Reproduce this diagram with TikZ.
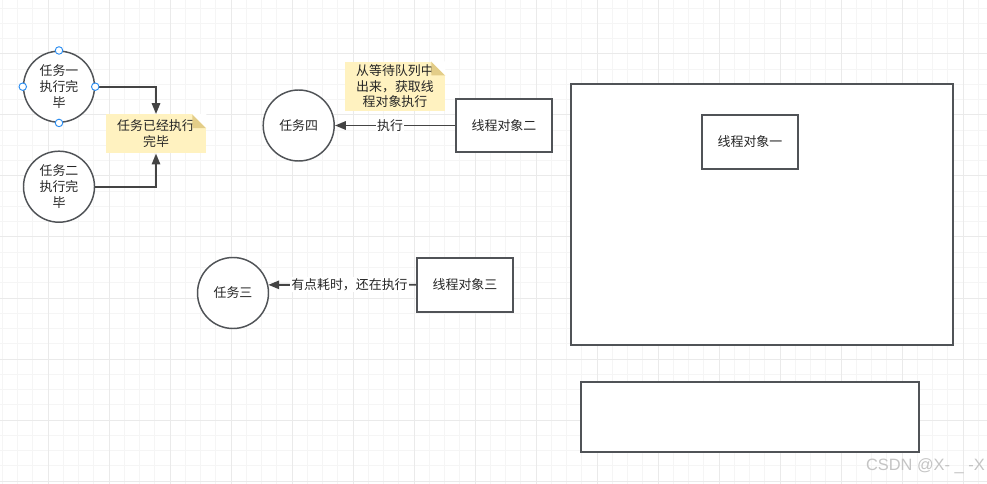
\documentclass[tikz,border=0pt]{standalone}
\usepackage{fontspec}
\setmainfont{Noto Sans CJK SC}
\newfontfamily\wmfont{Liberation Sans}
\usetikzlibrary{arrows.meta,calc}
\definecolor{gridminor}{HTML}{F5F5F5}
\definecolor{gridmajor}{HTML}{EAEAEA}
\definecolor{strokec}{HTML}{505357}
\definecolor{linec}{HTML}{444444}
\definecolor{notefill}{HTML}{FFF2C0}
\definecolor{notefold}{HTML}{E3CD88}
\definecolor{handle}{HTML}{2A8CF0}
\definecolor{wmc}{HTML}{C4C4C4}
\tikzset{
  cjk/.style={font=\fontsize{9.7pt}{11.8pt}\selectfont, align=center, text=black!85},
  taskcirc/.style={circle, draw=strokec, line width=1.1pt, fill=white, minimum size={71*0.75pt}, inner sep=0pt, cjk},
  thrbox/.style={rectangle, draw=strokec, line width=1.3pt, fill=white, inner sep=0pt, cjk},
  notebox/.style={rectangle, fill=notefill, inner sep=0pt, cjk},
  conn/.style={draw=linec, line width=1.4pt, -{Triangle[length=8.2pt,width=6.3pt]}},
  edgelbl/.style={fill=white, inner sep=1pt, cjk},
  hdl/.style={circle, draw=handle, fill=white, line width=0.7pt, minimum size={7.5*0.75pt}, inner sep=0pt}
}
\begin{document}
\begin{tikzpicture}[x=0.75pt, y=-0.75pt]
\useasboundingbox (0,0) rectangle (987,484);
\fill[white] (0,0) rectangle (987,484);
% grid
\foreach \i in {0,...,64} {
  \draw[gridminor, line width=0.75pt] ({2.25+15.25*\i},0) -- ({2.25+15.25*\i},484);
}
\foreach \j in {0,...,31} {
  \draw[gridminor, line width=0.75pt] (0,{8.25+15.25*\j}) -- (987,{8.25+15.25*\j});
}
\foreach \i in {0,...,16} {
  \draw[gridmajor, line width=0.75pt] ({-13+61*\i},0) -- ({-13+61*\i},484);
}
\foreach \j in {0,...,8} {
  \draw[gridmajor, line width=0.75pt] (0,{-7+61*\j}) -- (987,{-7+61*\j});
}

% big rectangles
\node[thrbox, minimum width={381.7*0.75pt}, minimum height={261.3*0.75pt}] (big) at (761.85,214.65) {};
\node[thrbox, minimum width={338*0.75pt}, minimum height={69.7*0.75pt}] (bottom) at (750,416.85) {};
\node[thrbox, minimum width={96*0.75pt}, minimum height={54*0.75pt}] (r1) at (750,141.7) {线程对象一};

% tasks one / two
\node[taskcirc] (t1) at (59,86.7) {任务一\\执行完\\毕};
\node[taskcirc] (t2) at (59,186.7) {任务二\\执行完\\毕};
\node[notebox, minimum width={100*0.75pt}, minimum height={39*0.75pt}] (n1) at (156,133.8) {任务已经执行\\完毕};
\fill[notefold] (n1.north east) ++(-14,0) -- ++(14,14) -- ++(-14,0) -- cycle;
\fill[white] (n1.north east) ++(-14,0) -- ++(14,0) -- ++(0,14) -- cycle;
\draw[conn] (t1.east) -| (n1.north);
\draw[conn] (t2.east) -| (n1.south);
\foreach \a in {north,south,east,west} { \node[hdl] at (t1.\a) {}; }

% task four
\node[taskcirc] (t4) at (298.7,125.5) {任务四};
\node[thrbox, minimum width={96.6*0.75pt}, minimum height={53*0.75pt}] (r2) at (504,125.5) {线程对象二};
\node[notebox, minimum width={100*0.75pt}, minimum height={49*0.75pt}] (n2) at (395,86.2) {从等待队列中\\出来，获取线\\程对象执行};
\fill[notefold] (n2.north east) ++(-14,0) -- ++(14,14) -- ++(-14,0) -- cycle;
\fill[white] (n2.north east) ++(-14,0) -- ++(14,0) -- ++(0,14) -- cycle;
\draw[conn] (r2.west) -- node[edgelbl, pos=0.54] {执行} (t4.east);

% task three
\node[taskcirc] (t3) at (233,293) {任务三};
\node[thrbox, minimum width={96.6*0.75pt}, minimum height={54*0.75pt}] (r3) at (465,284.7) {线程对象三};
\draw[conn] (r3.west) -- node[edgelbl, pos=0.45] {有点耗时，还在执行} (t3.13.5);

% watermark
\node[text=wmc, font=\wmfont\fontsize{12.3pt}{14pt}\selectfont, anchor=east, inner sep=0pt] (wm) at (985,466) {CSDN @X- \_ -X};
\end{tikzpicture}
\end{document}
